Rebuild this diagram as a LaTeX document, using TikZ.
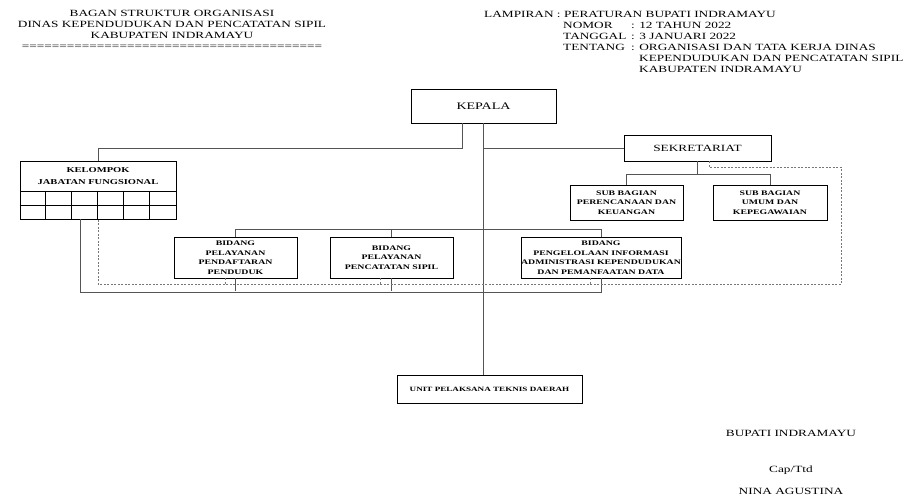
\documentclass[tikz,border=0pt]{standalone}
\usepackage{fontspec}
\setmainfont{Liberation Serif}[FakeStretch=1.4]
\usepackage{tikz}
\usetikzlibrary{positioning}
\usetikzlibrary{calc}
\definecolor{garis}{RGB}{85,85,85}
\tikzstyle{kotak}=[rectangle, draw=black, line width=0.8pt, fill=white, inner sep=0pt, align=center, font=\fontsize{7}{9.5}\selectfont\bfseries]
\tikzstyle{kotakbesar}=[kotak, font=\fontsize{10}{12}\selectfont]
\tikzstyle{judul}=[inner sep=0pt, align=center, font=\fontsize{9.5}{11}\selectfont]
\tikzstyle{teks}=[inner sep=0pt, anchor=base west, font=\fontsize{9.5}{11}\selectfont]

\begin{document}
\begin{tikzpicture}[x=1pt,y=-1pt]
	\useasboundingbox (0,0) rectangle (924,500);
	% kop kiri
	\node (kop) at (172,30) [judul] {BAGAN STRUKTUR ORGANISASI\\DINAS KEPENDUDUKAN DAN PENCATATAN SIPIL\\KABUPATEN INDRAMAYU\\========================================};
	% kop kanan
	\node (lampiran) at (484,17.5) [teks] {LAMPIRAN : PERATURAN BUPATI INDRAMAYU};
	\node (nomor) at (563,28.5) [teks] {NOMOR};
	\node (nomorisi) at (631,28.5) [teks] {: 12 TAHUN 2022};
	\node (tanggal) at (563,39.5) [teks] {TANGGAL};
	\node (tanggalisi) at (631,39.5) [teks] {: 3 JANUARI 2022};
	\node (tentang) at (563,50.5) [teks] {TENTANG};
	\node (tentangisi) at (631,50.5) [teks] {: ORGANISASI DAN TATA KERJA DINAS};
	\node (tentangisi2) at (639,61.5) [teks] {KEPENDUDUKAN DAN PENCATATAN SIPIL};
	\node (tentangisi3) at (639,72.5) [teks] {KABUPATEN INDRAMAYU};

	% kotak
	\node (kepala) at (483.5,106) [kotakbesar, minimum width=145, minimum height=34] {KEPALA};
	\node (sekre) at (697.5,148) [kotakbesar, font=\fontsize{9.5}{11}\selectfont, minimum width=147, minimum height=26] {SEKRETARIAT};
	\node (subprog) at (626.5,202.5) [kotak, minimum width=113, minimum height=35] {SUB BAGIAN\\PERENCANAAN DAN\\KEUANGAN};
	\node (subumum) at (770,202.5) [kotak, minimum width=114, minimum height=35] {SUB BAGIAN\\UMUM DAN\\KEPEGAWAIAN};
	\node (jabfung) at (98,176) [kotak, font=\fontsize{7.5}{12}\selectfont\bfseries, minimum width=156, minimum height=30] {KELOMPOK\\JABATAN FUNGSIONAL};
	\node (jabtab) at (98,205) [kotak, minimum width=156, minimum height=28] {};
	\node (dafduk) at (235.5,257.5) [kotak, minimum width=123, minimum height=41] {BIDANG\\PELAYANAN\\PENDAFTARAN\\PENDUDUK};
	\node (capil) at (391.5,257.5) [kotak, minimum width=123, minimum height=41] {BIDANG\\PELAYANAN\\PENCATATAN SIPIL};
	\node (piak) at (601,257.5) [kotak, minimum width=160, minimum height=41] {BIDANG\\PENGELOLAAN INFORMASI\\ADMINISTRASI KEPENDUDUKAN\\DAN PEMANFAATAN DATA};
	\node (upt) at (489.5,389) [kotak, font=\fontsize{6.5}{8}\selectfont\bfseries, minimum width=185, minimum height=28] {UNIT PELAKSANA TEKNIS DAERAH};

	% sel tabel
	\draw[line width=0.8pt] (jabtab.west) -- (jabtab.east);
	\foreach \i in {1,...,5}
		\draw[line width=0.8pt] ($(jabtab.north west)+(\i*26,0)$) -- ($(jabtab.south west)+(\i*26,0)$);

	% garis komando
	\path[draw=garis, line width=0.9pt]
		($(kepala.south)+(-21.5,0)$) -- ++(0,25) -| (jabfung.north)
		(kepala.south) -- (kepala.south |- upt.north)
		(kepala.south |- sekre.west) -- (sekre.west)
		(sekre.south) -- ++(0,13) -| (subprog.north)
		(sekre.south) -- ++(0,13) -| (subumum.north)
		(dafduk.north) -- ++(0,-7) -| (piak.north)
		(capil.north) -- ++(0,-7)
		($(jabtab.south)+(-18,0)$) -- ++(0,73) -| (piak.south)
		(dafduk.south) -- ++(0,13)
		(capil.south) -- ++(0,13);

	% garis koordinasi
	\path[draw=garis!80, line width=0.8pt, dash pattern=on 2pt off 1.5pt]
		($(sekre.south)+(11.5,0)$) -- ++(0,6) -- ++(132,0) -- ++(0,117) -| (jabtab.south)
		($(dafduk.south)+(-10,0)$) -- ++(0,6)
		($(capil.south)+(-11,0)$) -- ++(0,6)
		($(piak.south)+(-11,0)$) -- ++(0,6);

	% pengesahan
	\node (bupati) at (791,433) [judul] {BUPATI INDRAMAYU};
	\node (ttd) at (791,470) [judul] {Cap/Ttd};
	\node (nama) at (791,491) [judul] {NINA AGUSTINA};
\end{tikzpicture}
\end{document}
